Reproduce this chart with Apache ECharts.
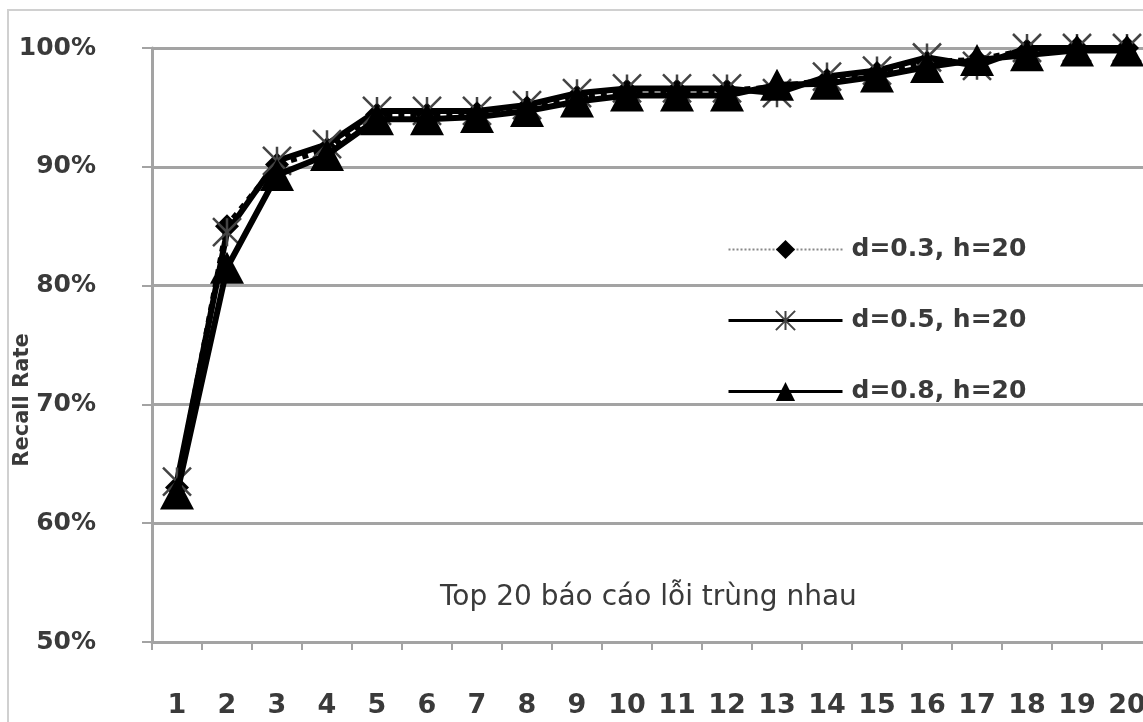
<!DOCTYPE html>
<html>
<head>
<meta charset="utf-8">
<title>Recall Rate</title>
<script src="https://cdn.jsdelivr.net/npm/echarts@6/dist/echarts.min.js"></script>
<style>
  html, body { margin: 0; padding: 0; background: #ffffff; }
  #chart { width: 1143px; height: 722px; }
</style>
</head>
<body>
<div id="chart"></div>
<script>
// Top-N positions on the x axis
const categories = ['1','2','3','4','5','6','7','8','9','10','11','12','13','14','15','16','17','18','19','20'];

// Recall rate (%) for each parameter setting
const recallD03 = [63.0, 85.0, 90.2, 91.5, 94.4, 94.4, 94.5, 95.0, 95.9, 96.4, 96.4, 96.4, 96.7, 97.3, 97.9, 98.8, 99.0, 99.8, 100, 100];
const recallD05 = [63.5, 84.5, 90.5, 91.9, 94.7, 94.7, 94.7, 95.2, 96.2, 96.6, 96.6, 96.6, 96.2, 97.6, 98.1, 99.2, 98.5, 100, 100, 100];
const recallD08 = [62.5, 81.5, 89.3, 91.0, 94.0, 94.0, 94.2, 94.7, 95.5, 96.0, 96.0, 96.0, 96.9, 97.0, 97.6, 98.4, 99.0, 99.4, 99.8, 99.8];

const seriesNames = ['d=0.3, h=20', 'd=0.5, h=20', 'd=0.8, h=20'];
const yTicks = [50, 60, 70, 80, 90, 100];

// asterisk marker: an X crossed by a vertical stroke
const asterisk = 'path://M0,0L20,20M20,0L0,20M10,0L10,20';

const gridColor = '#a3a3a3';
const textColor = '#3a3a3a';
const fontFam = '"DejaVu Sans", Verdana, sans-serif';

const chart = echarts.init(document.getElementById('chart'));

chart.setOption({
  backgroundColor: '#ffffff',
  animation: false,
  grid: { left: 152, right: -9, top: 48, bottom: 80, containLabel: false, outerBoundsMode: 'none' },
  legend: {
    orient: 'vertical',
    left: 722,
    top: 232,
    itemWidth: 114,
    itemHeight: 24,
    itemGap: 46,
    textStyle: {
      color: textColor, fontFamily: fontFam, fontSize: 25, fontWeight: 'bold',
      padding: [0, 0, 0, 4]
    },
    data: [
      { name: seriesNames[0], lineStyle: { color: '#888888', width: 2, type: 'dotted' }, itemStyle: { color: '#000' } },
      { name: seriesNames[1], lineStyle: { color: '#000', width: 3, type: 'solid' } },
      { name: seriesNames[2], lineStyle: { color: '#000', width: 3, type: 'solid' } }
    ]
  },
  xAxis: {
    type: 'category',
    data: categories,
    boundaryGap: true,
    axisLine: { lineStyle: { color: gridColor, width: 3 } },
    axisTick: { show: true, length: 8, lineStyle: { color: gridColor, width: 2 } },
    axisLabel: { color: textColor, fontFamily: fontFam, fontSize: 27, fontWeight: 'bold', margin: 50, interval: 0 },
    splitLine: { show: false }
  },
  yAxis: {
    type: 'value',
    min: yTicks[0],
    max: yTicks[yTicks.length - 1],
    interval: 10,
    axisLine: { show: true, lineStyle: { color: gridColor, width: 3 } },
    axisTick: { show: true, length: 10, lineStyle: { color: gridColor, width: 2 } },
    axisLabel: { color: textColor, fontFamily: fontFam, fontSize: 25, fontWeight: 'bold', margin: 56,
                 formatter: v => v + '%' },
    splitLine: { show: true, lineStyle: { color: gridColor, width: 3 } }
  },
  graphic: [
    {
      type: 'rect',
      shape: { x: 8, y: 10, width: 1200, height: 760 },
      style: { fill: 'none', stroke: '#d0d0d0', lineWidth: 2 },
      silent: true
    },
    {
      // y-axis title, rotated to read bottom-up
      type: 'text',
      x: 23,
      y: 400,
      rotation: Math.PI / 2,
      style: {
        text: 'Recall Rate', fill: textColor,
        font: 'bold 21px "DejaVu Sans", Verdana, sans-serif',
        align: 'center', verticalAlign: 'middle'
      },
      silent: true
    },
    {
      type: 'text',
      left: 440,
      top: 584,
      style: { text: 'Top 20 báo cáo lỗi trùng nhau', fill: textColor, font: '28px "DejaVu Sans", Verdana, sans-serif' },
      silent: true
    }
  ],
  series: [
    {
      name: seriesNames[0],
      type: 'line',
      data: recallD03,
      symbol: 'diamond',
      symbolSize: 24,
      itemStyle: { color: '#000' },
      lineStyle: { color: '#000', width: 6, type: 'dotted' },
      z: 2
    },
    {
      name: seriesNames[1],
      type: 'line',
      data: recallD05,
      symbol: asterisk,
      symbolSize: 28,
      itemStyle: { color: 'none', borderColor: '#444', borderWidth: 2.5 },
      lineStyle: { color: '#000', width: 6 },
      z: 3
    },
    {
      name: seriesNames[2],
      type: 'line',
      data: recallD08,
      symbol: 'triangle',
      symbolSize: [34, 32],
      itemStyle: { color: '#000' },
      lineStyle: { color: '#000', width: 6 },
      z: 4
    }
  ]
});
</script>
</body>
</html>
